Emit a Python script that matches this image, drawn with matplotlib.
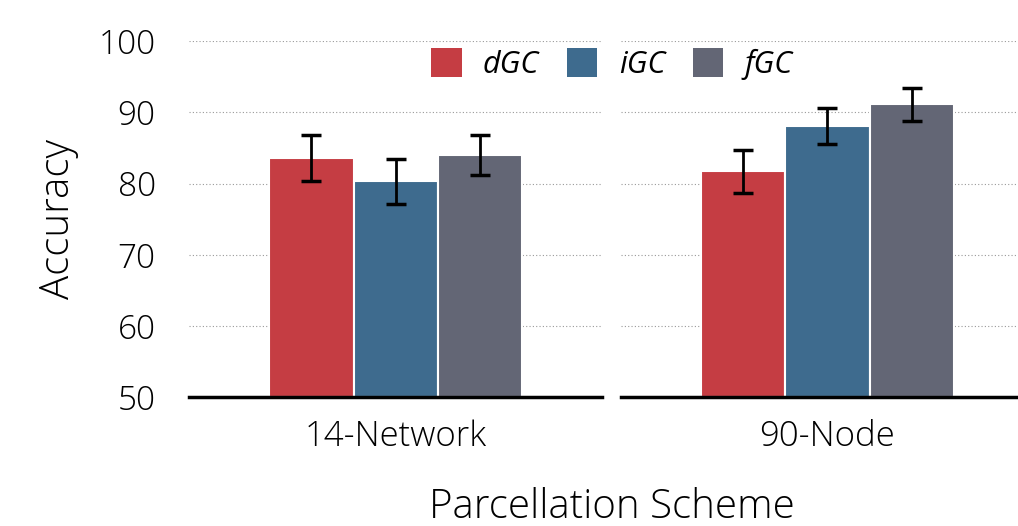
import matplotlib.pyplot as plt
from matplotlib.patches import Patch

# ------------------------------------------------------
# DATA
# ------------------------------------------------------

schemes = ["14-Network", "90-Node"]
methods = ["dGC", "iGC", "fGC"]

acc_14 = [83.6, 80.3, 84.0]
err_14 = [3.2, 3.1, 2.8]

acc_90 = [81.7, 88.1, 91.1]
err_90 = [3.0, 2.5, 2.3]

colors = ["#C53D43", "#3E6B8E", "#636675"]

plt.rcParams["font.family"] = ["Open Sans", "DejaVu Sans"]

# ------------------------------------------------------
# PLOT
# ------------------------------------------------------

fig = plt.figure(figsize=(10.18, 5.26), dpi=100)

ax_l = fig.add_axes([0.1857, 0.2443, 0.4057, 0.6777])
ax_r = fig.add_axes([0.6100, 0.2443, 0.4057, 0.6777])

offsets = [-0.285, 0.0, 0.285]

for ax, name, acc, err in [(ax_l, schemes[0], acc_14, err_14),
                           (ax_r, schemes[1], acc_90, err_90)]:
    for off, a, e, c in zip(offsets, acc, err, colors):
        ax.bar(off, a - 50, bottom=50, width=0.285, color=c,
               edgecolor="white", linewidth=1.5, zorder=2)
        ax.errorbar(off, a, yerr=e, color="black", elinewidth=2,
                    capsize=7, capthick=2.5, zorder=3)

    ax.set_xlim(-0.7, 0.7)
    ax.set_ylim(50, 100)
    ax.set_xticks([0])
    ax.set_xticklabels([name], fontweight="light")
    ax.set_yticks([50, 60, 70, 80, 90, 100])
    ax.grid(axis="y", linestyle=(0, (1, 2)), color="#999999",
            linewidth=0.8, zorder=0)
    for s in ["left", "right", "top"]:
        ax.spines[s].set_visible(False)
    ax.spines["bottom"].set_linewidth(2.5)
    ax.spines["bottom"].set_zorder(4)
    ax.tick_params(axis="both", length=0)
    ax.tick_params(axis="x", labelsize=25, pad=16)
    ax.tick_params(axis="y", labelsize=24, pad=24)

for t in ax_l.get_yticklabels():
    t.set_fontweight("light")
ax_r.set_yticklabels([])
ax_l.set_ylabel("Accuracy", fontsize=29, labelpad=14, fontweight="light")

fig.text(0.601, 0.036, "Parcellation Scheme", fontsize=29,
         ha="center", va="center", fontweight="light")

handles = [Patch(facecolor=c, label=m) for c, m in zip(colors, methods)]
fig.legend(handles=handles, loc="center", bbox_to_anchor=(0.601, 0.878),
           ncol=3, frameon=False,
           prop={"size": 22, "style": "italic"},
           handlelength=1.0, handleheight=1.05, handletextpad=0.7,
           columnspacing=0.9)

plt.savefig("out.png", dpi=100)
plt.close()
